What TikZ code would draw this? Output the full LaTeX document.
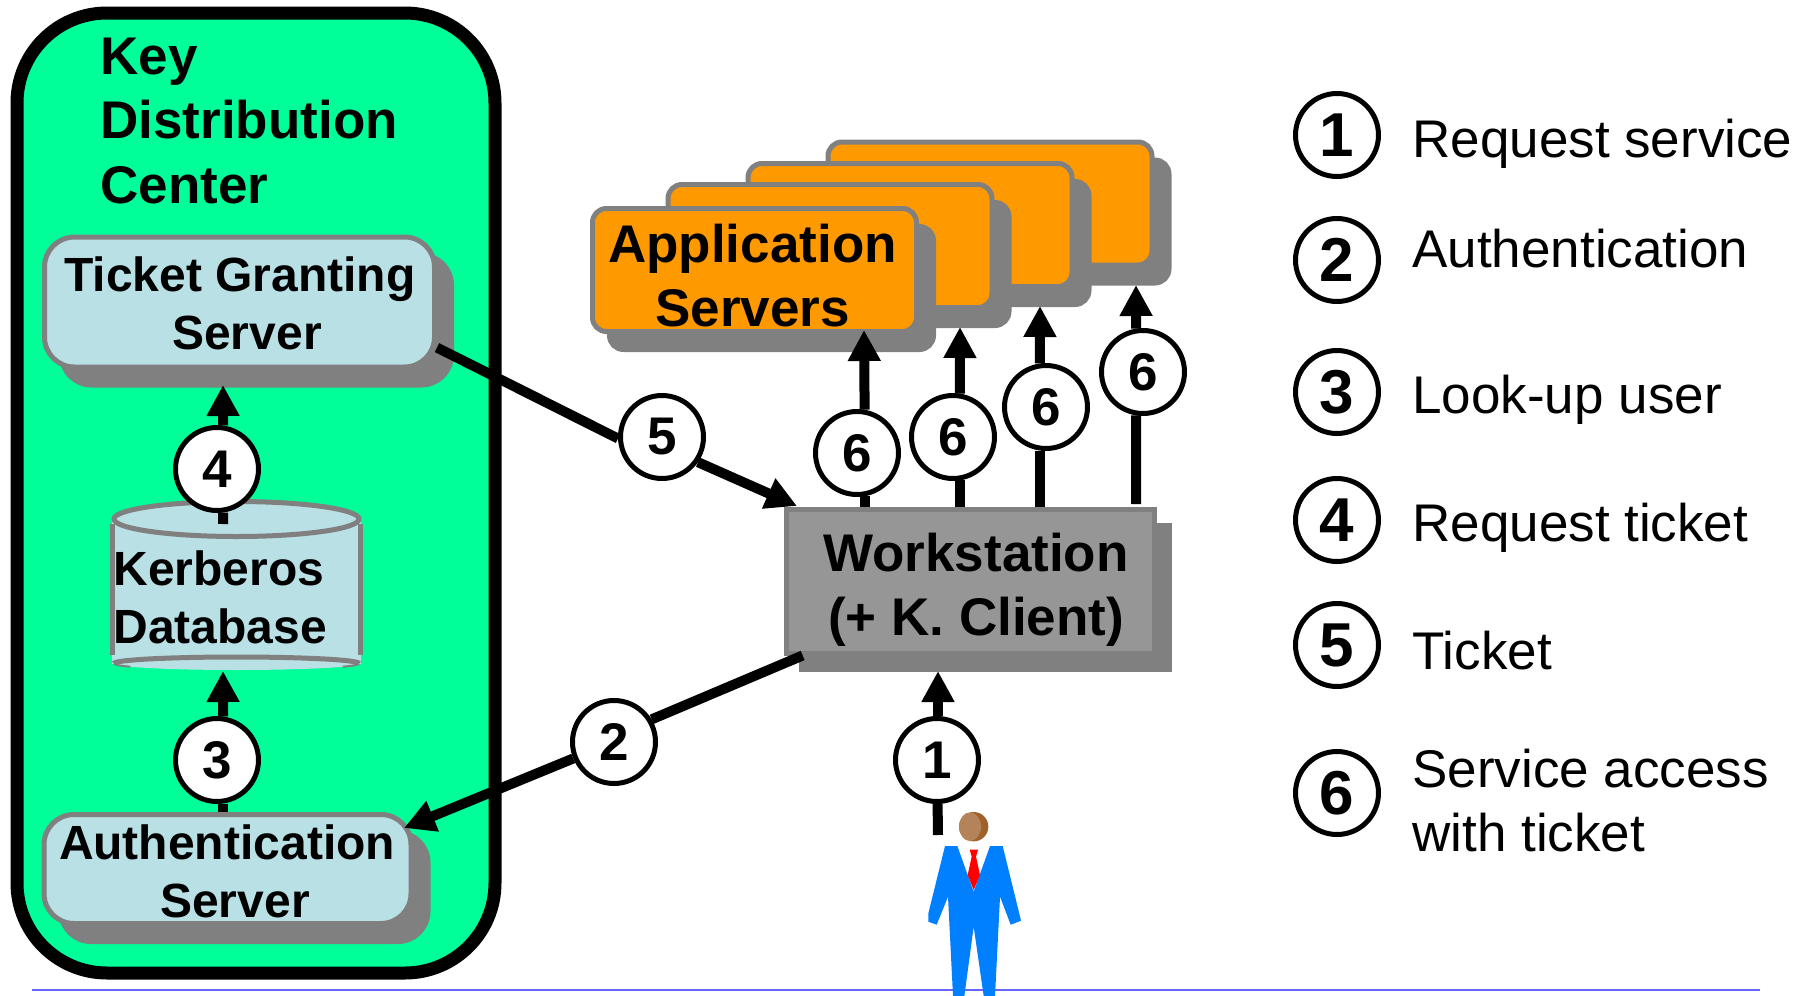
\documentclass[tikz,border=0pt]{standalone}
\usepackage{fontspec}
\setmainfont{Liberation Sans}
\usepackage{xcolor}
\usetikzlibrary{arrows.meta}
\usetikzlibrary{shadows}

\definecolor{kdcgreen}{HTML}{00FF99}
\definecolor{paleblue}{HTML}{B9E0E4}
\definecolor{apporange}{HTML}{FF9900}
\definecolor{edgegrey}{HTML}{808080}
\definecolor{wsgrey}{HTML}{969696}
\definecolor{suitblue}{HTML}{0080FF}
\definecolor{floorblue}{HTML}{6666FF}
\definecolor{headlight}{HTML}{B5835A}
\definecolor{headdark}{HTML}{A0602A}

\tikzset{
  bigtext/.style={font=\bfseries\fontsize{26.5}{32.2}\selectfont,inner sep=0pt},
  midtext/.style={font=\bfseries\fontsize{24}{29}\selectfont,inner sep=0pt},
  legendtext/.style={font=\fontsize{26.5}{32}\selectfont,anchor=west,align=left,inner sep=0pt},
  boxshadow/.style={general shadow={fill=edgegrey,draw=edgegrey,line width=2.5pt,shadow xshift=8.5pt,shadow yshift=-9pt}},
  kdcbox/.style={draw=edgegrey,fill=paleblue,line width=2.5pt,rounded corners=15pt,boxshadow,inner sep=0pt},
  appbox/.style={draw=edgegrey,fill=apporange,line width=2.5pt,rounded corners=7pt,boxshadow,inner sep=0pt,minimum width=162pt,minimum height=61.5pt},
  wsbox/.style={draw=edgegrey,fill=wsgrey,line width=2.5pt,general shadow={fill=edgegrey,draw=edgegrey,line width=2.5pt,shadow xshift=7.5pt,shadow yshift=-8pt},inner sep=0pt,minimum width=184pt,minimum height=72pt},
  num/.style={circle,draw=black,fill=white,line width=2.5pt,minimum size=41.5pt,inner sep=0pt,font=\bfseries\fontsize{26.5}{26.5}\selectfont},
  key/.style={num,font=\bfseries\fontsize{31}{31}\selectfont},
  plain/.style={line width=5pt},
  flow/.style={line width=5pt,-{Triangle[length=15.5pt,width=15.5pt]}},
}

\begin{document}
\begin{tikzpicture}[x=0.5pt,y=-0.5pt]
\useasboundingbox (0,0) rectangle (1812,996);

% floor line
\draw[color=floorblue,line width=1pt] (32,989.5) -- (1760,989.5);

% key distribution center
\draw[color=black,fill=kdcgreen,line width=6.5pt,rounded corners=45pt] (17,13) rectangle (495,973);
\node[bigtext,align=left,anchor=west] (kdc) at (100,121) {Key\\Distribution\\Center};

\node[kdcbox,minimum width=195pt,minimum height=65pt] (tgs) at (239.5,302) {};
\node[midtext,align=center] (tgstext) at (240,303) {Ticket Granting\\\hspace*{7pt}Server};
\node[kdcbox,minimum width=183.5pt,minimum height=54.5pt] (as) at (227.5,869) {};
\node[midtext,align=center] (astext) at (227,871.5) {Authentication\\\hspace*{8pt}Server};

% database
\fill[color=paleblue] (112,519) rectangle (361,663.5);
\fill[color=paleblue] (236.5,663.5) ellipse (122.5 and 6.5);
\draw[color=edgegrey,line width=2.5pt] (112.5,524) -- (112.5,655);
\draw[color=edgegrey,line width=2.5pt] (360.5,524) -- (360.5,655);
\draw[color=edgegrey,fill=paleblue,line width=2.5pt] (236.5,519) ellipse (122.5 and 17.5);
\draw[color=edgegrey,line width=2.5pt] (114,663.5) arc (180:360:122.5 and 6.5);
\draw[color=edgegrey,line width=1pt] (114,663.5) arc (180:150:122.5 and 6.5);
\draw[color=edgegrey,line width=1pt] (359,663.5) arc (0:30:122.5 and 6.5);
\node[midtext,align=left,anchor=west] (kdb) at (113,597.5) {Kerberos\\Database};

% application servers, back to front
\foreach \i/\x/\y in {4/990/203.5, 3/910/225, 2/830/246} {
  \node[appbox] (app\i) at (\x,\y) {};
}
\node[appbox] (app1) at (754.5,270) {};
\node[bigtext,align=center] (apptext) at (752.5,275.5) {Application\\Servers};

\node[wsbox] (ws) at (970,581) {};
\node[bigtext,align=center] (wstext) at (976,589.5) {Workstation\\(+ K. Client)};

% numbered circles on the connectors
\node[num] (c1) at (937,760) {1};
\node[num] (c2) at (614,742) {2};
\node[num] (c3) at (217,760) {3};
\node[num] (c4) at (217,469) {4};
\node[num] (c5) at (662,437) {5};
\node[num] (c61) at (857,453) {6};
\node[num] (c62) at (953,437) {6};
\node[num] (c63) at (1046,407) {6};
\node[num] (c64) at (1143,372) {6};

\coordinate (base1) at (938,835);
\coordinate (tip1) at (938,671);
\coordinate (tip2) at (404,828);
\coordinate (tip3) at (223,671);
\coordinate (base4) at (223,524);
\coordinate (tip4) at (223,385);
\coordinate (tip5) at (797,506);
\coordinate (tip61) at (864,330);
\coordinate (tip62) at (960,327);
\coordinate (tip63) at (1040,306);
\coordinate (tip64) at (1136,285);
\coordinate (base64) at (1136,504);

\draw[plain] (base1) -- (c1);
\draw[flow] (c1.north -| base1) -- (tip1);
\draw[plain] (ws.204) -- (c2.31);
\draw[flow] (c2.202) -- (tip2);
\draw[plain] (as.north -| c3.-82) -- (c3.-82);
\draw[flow] (c3.82) -- (tip3);
\draw[plain] (base4) -- (c4.-82);
\draw[flow] (c4.82) -- (tip4);
\draw[plain] (tgs.-13) -- (c5.182);
\draw[flow] (c5.-35) -- (tip5);
\draw[plain] (ws.north -| c61.-80) -- (c61.-80);
\draw[flow] (c61.80) -- (tip61);
\draw[plain] (ws.north -| c62.-81) -- (c62.-81);
\draw[flow] (c62.81) -- (tip62);
\draw[plain] (ws.north -| c63.-98) -- (c63.-98);
\draw[flow] (c63.98) -- (tip63);
\draw[plain] (base64) -- (c64.-99);
\draw[flow] (c64.99) -- (tip64);

% person, in zoomed units
\begin{scope}[shift={(880,700)},x=0.1667pt,y=-0.1667pt]
\fill[color=suitblue] (195,438) -- (232,438) -- (281,575) -- (330,438) -- (368,438) -- (423,662) -- (392,674) -- (360,590) -- (345,888) -- (311,888) -- (281,680) -- (253,888) -- (219,888) -- (204,590) -- (170,674) -- (145,665) -- (145,640) --cycle;
\fill[color=red] (269,449) -- (294,449) -- (288,470) -- (300,525) -- (281,570) -- (263,525) -- (275,470) --cycle;
\fill[color=headdark] (281,380) circle (44);
\fill[color=headlight] (270,380) circle (33 and 43);
\end{scope}

% legend
\foreach \i/\y in {1/135, 2/260, 3/392, 4/520, 5/645, 6/793} {
  \node[key] (key\i) at (1337,\y) {\i};
}
\node[legendtext] (txt1) at (1412,144) {Request service};
\node[legendtext] (txt2) at (1412,249) {Authentication};
\node[legendtext] (txt3) at (1412,400) {Look-up user};
\node[legendtext] (txt4) at (1412,528) {Request ticket};
\node[legendtext] (txt5) at (1412,651) {Ticket};
\node[legendtext] (txt6) at (1412,801) {Service access\\with ticket};

\end{tikzpicture}
\end{document}
